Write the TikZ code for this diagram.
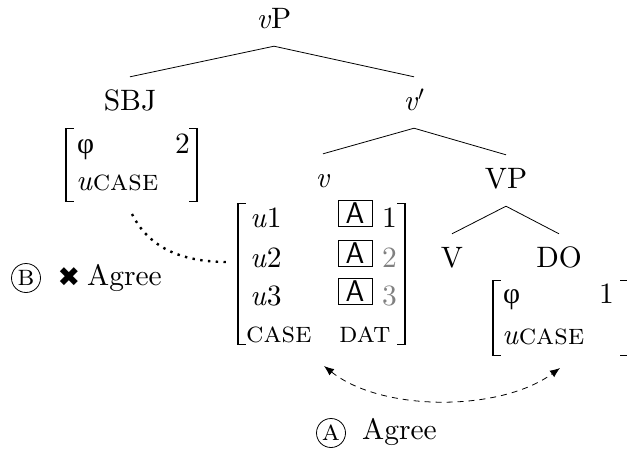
\documentclass[tikz,border=0pt]{standalone}
\usepackage{fontspec}
\setmainfont{lmroman10-regular.otf}[
  ItalicFont=lmroman10-italic.otf,
  BoldFont=lmroman10-bold.otf,
  SmallCapsFont=lmromancaps10-regular.otf]
\newfontfamily\grk{Liberation Serif}
\newfontfamily\sym{DejaVu Sans}
\usetikzlibrary{arrows.meta}
% bracket of a feature matrix: x, top, bottom, side (1 = left, -1 = right)
\newcommand\avmbrk[4]{%
  \draw[brkv] (#1,#2) -- (#1,#3);
  \draw[brkt] ({#1-(#4)*1.2},{#2+0.6}) -- ({#1+(#4)*8},{#2+0.6})
              ({#1-(#4)*1.2},{#3-0.6}) -- ({#1+(#4)*8},{#3-0.6});}
\begin{document}
\begin{tikzpicture}[x=1pt,y=-1pt,
  every node/.style={font=\fontsize{29.5}{35}\selectfont, inner sep=0pt},
  lbl/.style={anchor=base, text height=33pt, text depth=18pt},
  ent/.style={anchor=base west},
  entr/.style={anchor=base east},
  branch/.style={line width=0.8pt},
  brkv/.style={line width=2.6pt},
  brkt/.style={line width=1.3pt},
  agbox/.style={draw, line width=0.8pt, minimum width=34pt, minimum height=26pt,
                font=\fontsize{30}{35}\selectfont\sffamily},
  faint/.style={text=black!50},
  tag/.style={draw, circle, line width=0.8pt, minimum size=29pt,
              font=\fontsize{29.5}{35}\selectfont\scshape},
  dots/.style={line width=2.4pt, dash pattern=on 2.4pt off 5.4pt},
  agree/.style={line width=0.8pt, dash pattern=on 6pt off 5pt,
                {Latex[length=10pt,width=8pt]}-{Latex[length=10pt,width=8pt]}},
]
\useasboundingbox (0,0) rectangle (627,451);

% tree labels
\node[lbl] (vP)   at (274,28)  {\textit{v}P};
\node[lbl] (sbj)  at (130,110) {SBJ};
\node[lbl] (vbar) at (414,110) {\textit{v}$'$};
\node[lbl] (vh)   at (323,187) {\textit{v}};
\node[lbl] (VP)   at (506,188) {VP};
\node[lbl] (V)    at (452,267) {V};
\node[lbl] (DO)   at (559,267) {DO};

% branches
\draw[branch] (vP.south) -- (sbj.north);
\draw[branch] (vP.south) -- (vbar.north);
\draw[branch] (vbar.south) -- (vh.north);
\draw[branch] (vbar.south) -- (VP.north);
\draw[branch] (VP.south) -- (V.north);
\draw[branch] (VP.south) -- (DO.north);

% subject features
\node[ent]  (sbjphi)  at (77,153)  {\grk φ};
\node[entr] (sbjnum)  at (190,153) {2};
\node[ent]  (sbjcase) at (76,190)  {\textit{u}\textsc{case}};
\avmbrk{66}{128}{202}{1}
\avmbrk{197}{128}{202}{-1}

% features of v
\node[ent] (u1) at (250,227) {\textit{u}1};
\node[ent] (u2) at (250,267) {\textit{u}2};
\node[ent] (u3) at (250,305) {\textit{u}3};
\node[ent] (vcase) at (246,342) {\textsc{case}};
\node[ent] (vdat)  at (339,342) {\textsc{dat}};
\node[agbox] (a1) at (355,213) {A};
\node[agbox] (a2) at (355,253) {A};
\node[agbox] (a3) at (355,291) {A};
\node[ent] (n1) at (382,227) {1};
\node[ent,faint] (n2) at (382,267) {2};
\node[ent,faint] (n3) at (382,305) {3};
\avmbrk{238}{203}{345}{1}
\avmbrk{405}{203}{345}{-1}

% object features
\node[ent]  (dophi)  at (503,303) {\grk φ};
\node[entr] (donum)  at (614,303) {1};
\node[ent]  (docase) at (502,344) {\textit{u}\textsc{case}};
\avmbrk{493}{280}{356}{1}
\avmbrk{628}{280}{356}{-1}

% failed agreement with the subject
\coordinate (dotS) at (132,214);
\coordinate (dotE) at (228,262);
\draw[dots] (dotS) .. controls (150,250) and (185,262) .. (dotE);
\node[tag] (tagB) at (26,278) {b};
\node (cross) at (69,277) {\sym\fontsize{27}{30}\selectfont ✖};
\node[ent] (agB) at (87,285) {Agree};

% agreement with the object
\coordinate (agS) at (324,366);
\coordinate (agE) at (560,368);
\draw[agree] (agS) .. controls (382,412) and (500,412) .. (agE);
\node[tag] (tagA) at (331,433) {a};
\node[ent] (agA) at (362,439) {Agree};
\end{tikzpicture}
\end{document}
